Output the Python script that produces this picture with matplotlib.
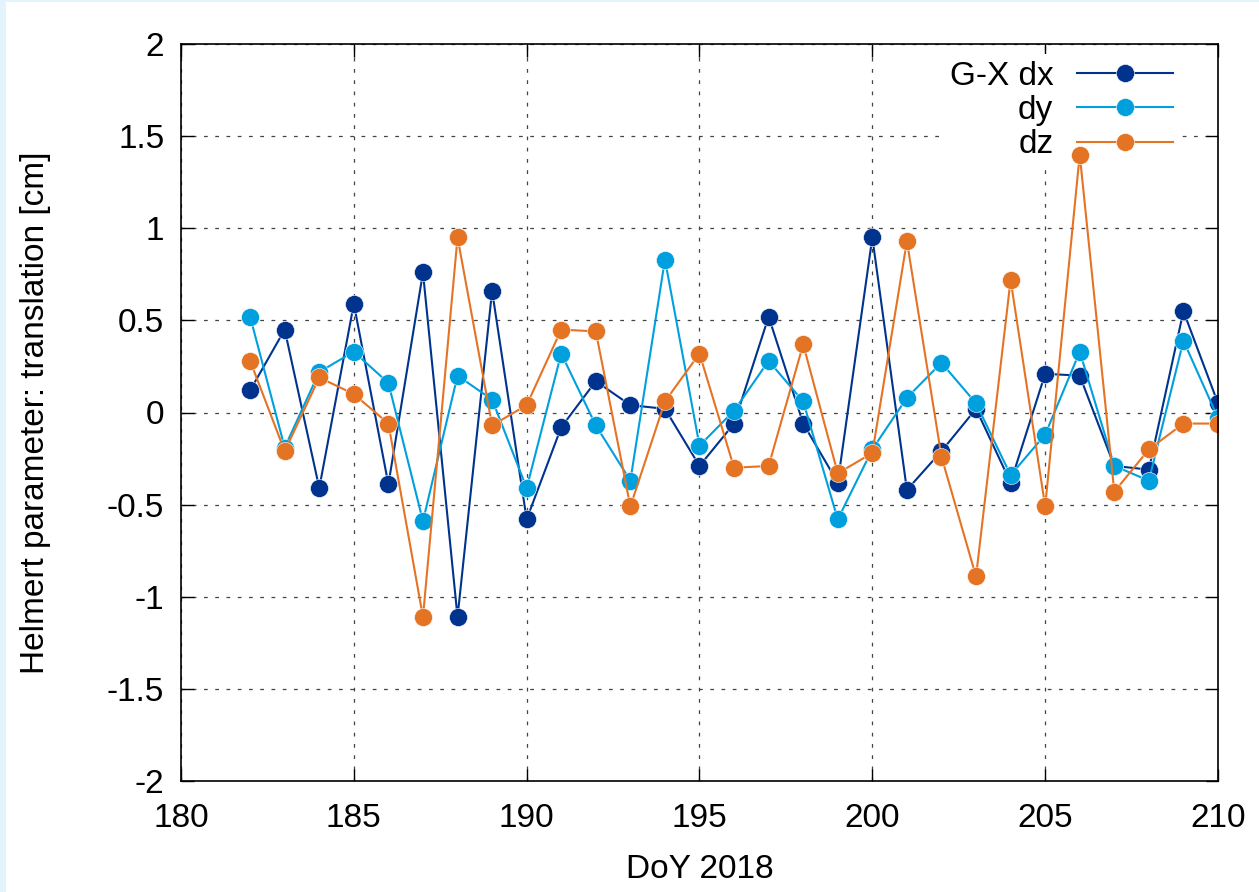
import numpy as np
import matplotlib
matplotlib.use("Agg")
from matplotlib import pyplot as plt
from matplotlib.patches import Rectangle

plt.rcParams['font.family'] = ['Liberation Sans', 'DejaVu Sans']
plt.rcParams['font.size'] = 24

# day of year
doy = list(range(182, 211))

# Helmert translations [cm]
dx = [0.12, 0.45, -0.41, 0.59, -0.39, 0.76, -1.11, 0.66, -0.58, -0.08,
      0.17, 0.04, 0.02, -0.29, -0.06, 0.52, -0.06, -0.38, 0.95, -0.42,
      -0.21, 0.02, -0.38, 0.21, 0.20, -0.29, -0.31, 0.55, 0.05]
dy = [0.52, -0.19, 0.22, 0.33, 0.16, -0.59, 0.20, 0.07, -0.41, 0.32,
      -0.07, -0.37, 0.83, -0.18, 0.01, 0.28, 0.06, -0.58, -0.20, 0.08,
      0.27, 0.05, -0.34, -0.12, 0.33, -0.29, -0.37, 0.39, -0.03]
dz = [0.28, -0.21, 0.19, 0.10, -0.06, -1.11, 0.95, -0.07, 0.04, 0.45,
      0.44, -0.51, 0.06, 0.32, -0.30, -0.29, 0.37, -0.33, -0.22, 0.93,
      -0.24, -0.89, 0.72, -0.51, 1.40, -0.43, -0.20, -0.06, -0.06]

labels = ["G-X dx", "dy", "dz"]
colors = ["#00338d", "#00a0de", "#e57324"]

fig = plt.figure(figsize=(12.59, 8.92), dpi=100)
fig.patch.set_facecolor("#e3f4fd")
# white page inside the light blue strip
fig.patches.append(Rectangle((6 / 1259, 0), 1, 1 - 2 / 892, transform=fig.transFigure,
                             facecolor="white", edgecolor="none", zorder=-10))
ax = fig.add_axes([181 / 1259, 1 - 781 / 892, (1218 - 181) / 1259, (781 - 44) / 892])

for vals, lab, c in zip([dx, dy, dz], labels, colors):
    ax.plot(doy, vals, color=c, lw=1.5, marker="o", ms=13, mec="white", mew=0.4,
            label=lab, zorder=3)

ax.set_xlim(180, 210)
ax.set_ylim(-2, 2)
ax.set_xticks(np.arange(180, 211, 5))
ax.set_yticks(np.arange(-2, 2.01, 0.5))
ax.set_yticklabels(["-2", "-1.5", "-1", "-0.5", "0", "0.5", "1", "1.5", "2"])
ax.tick_params(direction="in", length=9, width=1, top=True, right=True)
ax.tick_params(axis="x", pad=16)
ax.tick_params(axis="y", pad=12)
ax.grid(True, color="#444444", linestyle=(0, (3, 6)), linewidth=0.9)
ax.set_axisbelow(True)
for s in ax.spines.values():
    s.set_linewidth(1.2)
    s.set_zorder(4)

ax.set_xlabel("DoY 2018", labelpad=14)
ax.set_ylabel("Helmert parameter: translation [cm]", labelpad=40)

leg = ax.legend(loc="upper right", bbox_to_anchor=(1 - 28 / 1037, 1), markerfirst=False,
                frameon=True, fancybox=False, handlelength=2.9, handletextpad=0.7,
                labelspacing=0.1, borderaxespad=0.3, borderpad=0.2)
leg.get_frame().set_edgecolor("none")
leg.get_frame().set_facecolor("white")
leg.get_frame().set_alpha(1)
leg.set_zorder(2)

fig.savefig("out.png", dpi=100, facecolor=fig.get_facecolor())
